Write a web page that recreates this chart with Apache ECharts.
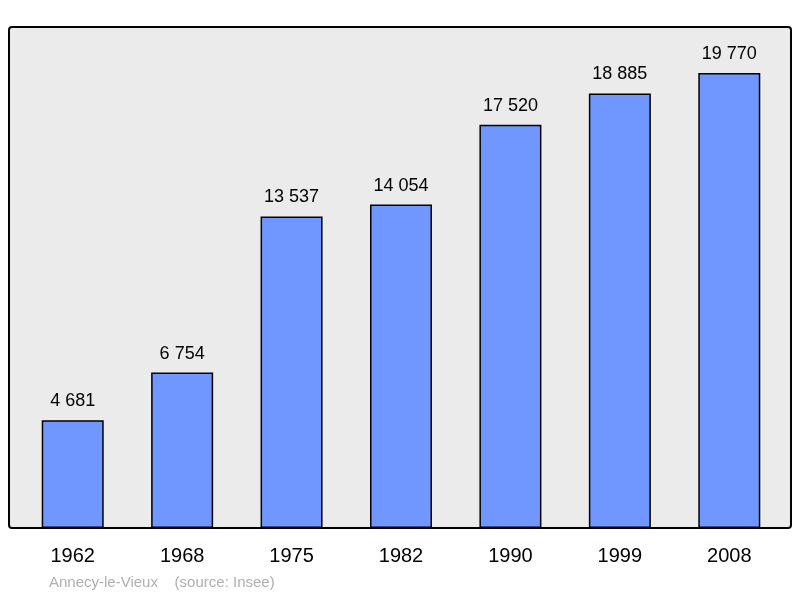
<!DOCTYPE html>
<html><head><meta charset="utf-8">
<script src="https://cdn.jsdelivr.net/npm/echarts@6/dist/echarts.min.js"></script>
<style>html,body{margin:0;background:#fff}#c{width:800px;height:598px}</style>
</head><body><div id="c"></div>
<script>
const years = ['1962','1968','1975','1982','1990','1999','2008'];
const population = [4681, 6754, 13537, 14054, 17520, 18885, 19770];
const fmt = v => String(v).replace(/\B(?=(\d{3})+(?!\d))/g, ' ');
const chart = echarts.init(document.getElementById('c'));
chart.setOption({
  animation: false,
  graphic: [
    {type:'rect', z:-10, shape:{x:9,y:27,width:782,height:501,r:3}, style:{fill:'#ebebeb',stroke:'#000',lineWidth:2}},
    {type:'text', left:49, top:575, style:{text:'Annecy-le-Vieux    (source: Insee)', fill:'#b0b0b0', font:'15px "Liberation Sans", Arial'}}
  ],
  grid: {left:18, right:16, top:27, bottom:70},
  xAxis: {type:'category', data: years, axisLine:{show:false}, axisTick:{show:false},
    axisLabel:{fontSize:20, color:'#000', margin:18, fontFamily:'"Liberation Sans", Arial'}},
  yAxis: {type:'value', min:0, max:21770, show:false, splitLine:{show:false}},
  series: [{type:'bar', data: population, barWidth:62,
    itemStyle:{color:'#7097ff', borderColor:'#000', borderWidth:1.5},
    label:{show:true, position:'top', distance:10, fontSize:18, color:'#000', fontFamily:'"Liberation Sans", Arial',
      formatter: p => fmt(p.value)}}]
});
</script></body></html>
